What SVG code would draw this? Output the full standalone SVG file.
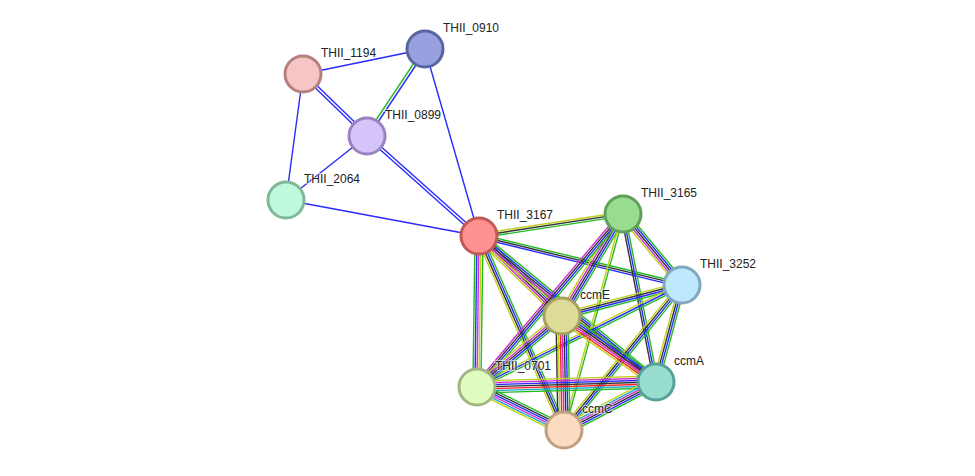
<svg xmlns="http://www.w3.org/2000/svg" width="975" height="476" viewBox="0 0 975 476">
<style>
line{stroke-width:1.4;fill:none}
.g{stroke:#22bb22}.b{stroke:#2a2aff}.k{stroke:#333}.m{stroke:#d030d0}.y{stroke:#c0d020}.r{stroke:#ff2020}.c{stroke:#20a8d0}
circle{stroke-width:3}
text{font-family:"Liberation Sans",Arial,sans-serif;font-size:12px;fill:#222;paint-order:stroke;stroke:#fff;stroke-width:2px;stroke-opacity:.6}
</style>
<rect width="975" height="476" fill="#fff"/>
<g id="connectors">
<line class="b" x1="303" y1="74" x2="425" y2="49"/>
<line class="b" x1="302" y1="75" x2="366" y2="137"/><line class="b" x1="304" y1="73" x2="368" y2="135"/>
<line class="b" x1="303" y1="74" x2="286" y2="200"/>
<line class="g" x1="424" y1="48" x2="366" y2="135"/><line class="b" x1="426" y1="50" x2="368" y2="137"/>
<line class="b" x1="425" y1="49" x2="479" y2="236"/>
<line class="b" x1="367" y1="136" x2="286" y2="200"/>
<line class="b" x1="366" y1="137" x2="478" y2="237"/><line class="b" x1="368" y1="135" x2="480" y2="235"/>
<line class="b" x1="286" y1="200" x2="479" y2="236"/>
<g transform="translate(479,236) rotate(-8.7)"><line class="y" x2="146" y1="-2" y2="-2"/><line class="k" x2="146"/><line class="g" x2="146" y1="2" y2="2"/></g>
<g transform="translate(479,236) rotate(13.6)"><line class="g" x2="209" y1="-2" y2="-2"/><line class="k" x2="209"/><line class="b" x2="209" y1="2" y2="2"/></g>
<g transform="translate(479,236) rotate(43.9)"><line class="g" x2="115" y1="-4" y2="-4"/><line class="b" x2="115" y1="-2" y2="-2"/><line class="k" x2="115"/><line class="m" x2="115" y1="2" y2="2"/><line class="y" x2="115" y1="4" y2="4"/></g>
<g transform="translate(479,236) rotate(90.8)"><line class="g" x2="151" y1="-4" y2="-4"/><line class="y" x2="151" y1="-2" y2="-2"/><line class="m" x2="151"/><line class="b" x2="151" y1="2" y2="2"/><line class="g" x2="151" y1="4" y2="4"/></g>
<g transform="translate(479,236) rotate(39.5)"><line class="g" x2="229" y1="-4" y2="-4"/><line class="b" x2="229" y1="-2" y2="-2"/><line class="k" x2="229"/><line class="m" x2="229" y1="2" y2="2"/><line class="y" x2="229" y1="4" y2="4"/></g>
<g transform="translate(479,236) rotate(66.3)"><line class="g" x2="212" y1="-3" y2="-3"/><line class="b" x2="212" y1="-1" y2="-1"/><line class="k" x2="212" y1="1" y2="1"/><line class="y" x2="212" y1="3" y2="3"/></g>
<g transform="translate(623,214) rotate(50.3)"><line class="g" x2="92" y1="-4" y2="-4"/><line class="b" x2="92" y1="-2" y2="-2"/><line class="k" x2="92"/><line class="m" x2="92" y1="2" y2="2"/><line class="y" x2="92" y1="4" y2="4"/></g>
<g transform="translate(623,214) rotate(120.9)"><line class="g" x2="119" y1="-4" y2="-4"/><line class="b" x2="119" y1="-2" y2="-2"/><line class="k" x2="119"/><line class="m" x2="119" y1="2" y2="2"/><line class="y" x2="119" y1="4" y2="4"/></g>
<g transform="translate(623,214) rotate(130.2)"><line class="g" x2="226" y1="-3" y2="-3"/><line class="b" x2="226" y1="-1" y2="-1"/><line class="k" x2="226" y1="1" y2="1"/><line class="m" x2="226" y1="3" y2="3"/></g>
<g transform="translate(623,214) rotate(78.9)"><line class="g" x2="171" y1="-2" y2="-2"/><line class="b" x2="171"/><line class="k" x2="171" y1="2" y2="2"/></g>
<g transform="translate(623,214) rotate(105.3)"><line class="g" x2="224" y1="-1" y2="-1"/><line class="y" x2="224" y1="1" y2="1"/></g>
<g transform="translate(682,285) rotate(165.5)"><line class="g" x2="124" y1="-3" y2="-3"/><line class="b" x2="124" y1="-1" y2="-1"/><line class="k" x2="124" y1="1" y2="1"/><line class="y" x2="124" y1="3" y2="3"/></g>
<g transform="translate(682,285) rotate(153.5)"><line class="g" x2="229" y1="-2" y2="-2"/><line class="b" x2="229"/><line class="y" x2="229" y1="2" y2="2"/></g>
<g transform="translate(682,285) rotate(105)"><line class="g" x2="100" y1="-3" y2="-3"/><line class="b" x2="100" y1="-1" y2="-1"/><line class="k" x2="100" y1="1" y2="1"/><line class="y" x2="100" y1="3" y2="3"/></g>
<g transform="translate(682,285) rotate(129.1)"><line class="g" x2="187" y1="-3" y2="-3"/><line class="b" x2="187" y1="-1" y2="-1"/><line class="k" x2="187" y1="1" y2="1"/><line class="y" x2="187" y1="3" y2="3"/></g>
<g transform="translate(562,316) rotate(140.1)"><line class="g" x2="111" y1="-4" y2="-4"/><line class="b" x2="111" y1="-2" y2="-2"/><line class="k" x2="111"/><line class="m" x2="111" y1="2" y2="2"/><line class="y" x2="111" y1="4" y2="4"/></g>
<g transform="translate(562,316) rotate(35.1)"><line class="g" x2="115" y1="-5" y2="-5"/><line class="b" x2="115" y1="-3" y2="-3"/><line class="k" x2="115" y1="-1" y2="-1"/><line class="m" x2="115" y1="1" y2="1"/><line class="r" x2="115" y1="3" y2="3"/><line class="y" x2="115" y1="5" y2="5"/></g>
<g transform="translate(562,316) rotate(89)"><line class="g" x2="114" y1="-6" y2="-6"/><line class="b" x2="114" y1="-4" y2="-4"/><line class="k" x2="114" y1="-2" y2="-2"/><line class="m" x2="114"/><line class="r" x2="114" y1="2" y2="2"/><line class="y" x2="114" y1="4" y2="4"/><line class="k" x2="114" y1="6" y2="6"/></g>
<g transform="translate(477,387) rotate(-1.6)"><line class="y" x2="179" y1="-6" y2="-6"/><line class="m" x2="179" y1="-4" y2="-4"/><line class="b" x2="179" y1="-2" y2="-2"/><line class="k" x2="179"/><line class="r" x2="179" y1="2" y2="2"/><line class="c" x2="179" y1="4" y2="4"/><line class="g" x2="179" y1="6" y2="6"/></g>
<g transform="translate(477,387) rotate(26.3)"><line class="g" x2="97" y1="-5" y2="-5"/><line class="k" x2="97" y1="-3" y2="-3"/><line class="b" x2="97" y1="-1" y2="-1"/><line class="m" x2="97" y1="1" y2="1"/><line class="c" x2="97" y1="3" y2="3"/><line class="y" x2="97" y1="5" y2="5"/></g>
<g transform="translate(656,382) rotate(152.4)"><line class="g" x2="104" y1="-5" y2="-5"/><line class="b" x2="104" y1="-3" y2="-3"/><line class="k" x2="104" y1="-1" y2="-1"/><line class="m" x2="104" y1="1" y2="1"/><line class="c" x2="104" y1="3" y2="3"/><line class="y" x2="104" y1="5" y2="5"/></g>
</g>
<g id="THII_1194"><circle cx="303" cy="74" r="18" fill="#f6c6c6" stroke="#b48080"/><text x="321" y="57">THII_1194</text></g>
<g id="THII_0910"><circle cx="425" cy="49" r="18" fill="#98a0e0" stroke="#5866a0"/><text x="443" y="32">THII_0910</text></g>
<g id="THII_0899"><circle cx="367" cy="136" r="18" fill="#d4c4fa" stroke="#9a84c0"/><text x="385" y="119">THII_0899</text></g>
<g id="THII_2064"><circle cx="286" cy="200" r="18" fill="#c0f8dc" stroke="#80b898"/><text x="304" y="183">THII_2064</text></g>
<g id="THII_3167"><circle cx="479" cy="236" r="18" fill="#ff9090" stroke="#c05858"/><text x="497" y="219">THII_3167</text></g>
<g id="THII_3165"><circle cx="623" cy="214" r="18" fill="#98dc90" stroke="#60a058"/><text x="641" y="197">THII_3165</text></g>
<g id="THII_3252"><circle cx="682" cy="285" r="18" fill="#c0e8fc" stroke="#80a8c0"/><text x="700" y="268">THII_3252</text></g>
<g id="ccmE"><circle cx="562" cy="316" r="18" fill="#dcdc98" stroke="#a8a060"/><text x="580" y="299">ccmE</text></g>
<g id="THII_0701"><circle cx="477" cy="387" r="18" fill="#e0fcc0" stroke="#a0b880"/><text x="495" y="370">THII_0701</text></g>
<g id="ccmA"><circle cx="656" cy="382" r="18" fill="#98dcd0" stroke="#58a098"/><text x="674" y="365">ccmA</text></g>
<g id="ccmC"><circle cx="564" cy="430" r="18" fill="#fcdcc0" stroke="#c0a080"/><text x="582" y="413">ccmC</text></g>
</svg>
